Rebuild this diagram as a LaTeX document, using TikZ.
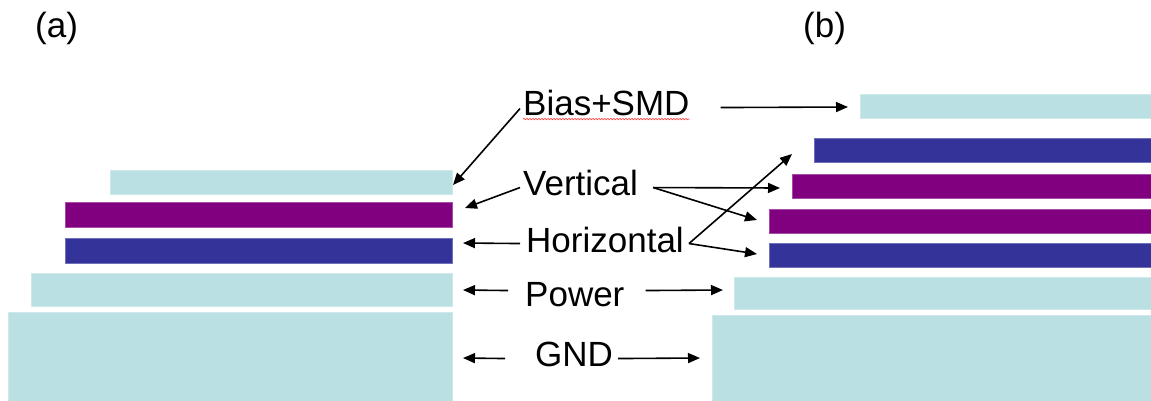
\documentclass[tikz,border=0pt]{standalone}
\usepackage{fontspec}
\setmainfont{Liberation Sans}
\usepackage{tikz}
\usetikzlibrary{calc, arrows.meta, decorations.pathmorphing}

\definecolor{ltcyan}{RGB}{186,224,227}
\definecolor{vpurple}{RGB}{128,0,128}
\definecolor{hblue}{RGB}{51,51,153}

\begin{document}
\begin{tikzpicture}[x=1pt, y=-1pt,
    lbl/.style={anchor=base west, inner sep=0pt, font=\fontsize{35}{40}\selectfont},
    arr/.style={-{Triangle[length=12pt,width=10pt]}, line width=1.6pt},
    layer/.style={draw=#1!70!white, fill=#1, line width=0.6pt}]
    \useasboundingbox (0,0) rectangle (1151,400);

    % stack (a)
    \path[layer=ltcyan]  (110,170) rectangle (452,194);
    \path[layer=vpurple] (65,202)  rectangle (452,227);
    \path[layer=hblue]   (65,238)  rectangle (452,263);
    \path[layer=ltcyan]  (31,273)  rectangle (452,306);
    \path[layer=ltcyan]  (8,312)   rectangle (452,401);

    % stack (b)
    \path[layer=ltcyan]  (860,94)  rectangle (1152,118);
    \path[layer=hblue]   (814,138) rectangle (1152,162);
    \path[layer=vpurple] (792,174) rectangle (1152,198);
    \path[layer=vpurple] (769,209) rectangle (1152,233);
    \path[layer=hblue]   (769,243) rectangle (1152,267);
    \path[layer=ltcyan]  (734,277) rectangle (1152,309);
    \path[layer=ltcyan]  (712,315) rectangle (1152,401);

    \node[lbl] (a) at (35,37) {(a)};
    \node[lbl] (b) at (803,37) {(b)};

    \node[lbl] (bias) at (523,115) {Bias+SMD};
    \node[lbl] (vert) at (523,195) {Vertical};
    \node[lbl] (horiz) at (526,252) {Horizontal};
    \node[lbl] (power) at (525,306) {Power};
    \node[lbl] (gnd) at (535,366) {GND};

    \draw[red!75, line width=0.6pt, decorate,
        decoration={snake, amplitude=0.8pt, segment length=3pt}]
        ($(bias.south west)+(0,3.5)$) -- ($(bias.south east)+(0,3.5)$);

    % arrow tips
    \coordinate (tBiasA) at (453,185);
    \coordinate (tBiasB) at (848,107);
    \coordinate (tVertA) at (465,208);
    \coordinate (tVertB1) at (780,188);
    \coordinate (tVertB2) at (757,220);
    \coordinate (tHorA) at (463,243);
    \coordinate (tHorB1) at (792,154);
    \coordinate (tHorB2) at (757,254);
    \coordinate (tPowA) at (463,290);
    \coordinate (tPowB) at (723,290);
    \coordinate (tGndA) at (463,358);
    \coordinate (tGndB) at (700,358);

    \draw[arr] ($(bias.south west)+(-3,-7)$) -- (tBiasA);
    \draw[arr] ($(bias.south east)+(31,-8)$) -- (tBiasB);
    \draw[arr] ($(vert.south west)+(-3,-8)$) -- (tVertA);
    \draw[arr] ($(vert.south east)+(15,-8)$) -- (tVertB1);
    \draw[arr] ($(vert.south east)+(15,-8)$) -- (tVertB2);
    \draw[arr] ($(horiz.south west)+(-6,-9)$) -- (tHorA);
    \draw[arr] ($(horiz.south east)+(5,-9)$) -- (tHorB1);
    \draw[arr] ($(horiz.south east)+(5,-9)$) -- (tHorB2);
    \draw[arr] ($(power.south west)+(-17,-16)$) -- (tPowA);
    \draw[arr] ($(power.south east)+(21,-16)$) -- (tPowB);
    \draw[arr] ($(gnd.south west)+(-30,-8)$) -- (tGndA);
    \draw[arr] ($(gnd.south east)+(5,-8)$) -- (tGndB);
\end{tikzpicture}
\end{document}
